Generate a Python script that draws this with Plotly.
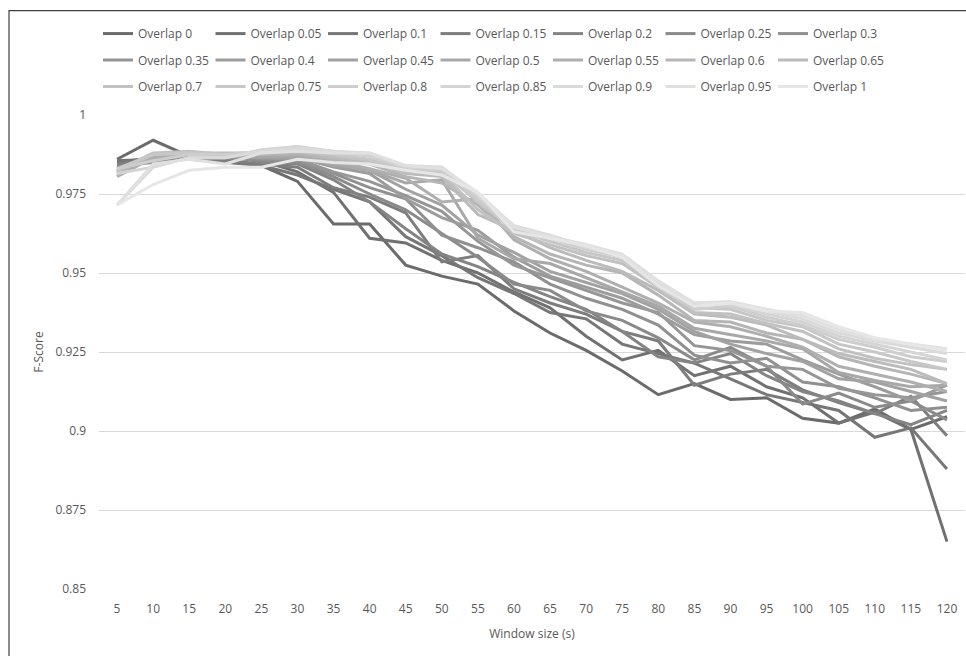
import plotly.graph_objects as go

window_sizes = ["5", "10", "15", "20", "25", "30", "35", "40", "45", "50", "55", "60",
                "65", "70", "75", "80", "85", "90", "95", "100", "105", "110", "115", "120"]

overlaps = ["0", "0.05", "0.1", "0.15", "0.2", "0.25", "0.3", "0.35", "0.4", "0.45", "0.5",
            "0.55", "0.6", "0.65", "0.7", "0.75", "0.8", "0.85", "0.9", "0.95", "1"]

ov_000 = [.986, .992, .987, .986, .984, .979, .9655, .9655, .9525, .949, .9465, .938, .931, .9255, .919, .9115, .915, .910, .9105, .904, .9025, .907, .9005, .9045]
ov_005 = [.9855, .986, .9865, .9875, .9855, .982, .9755, .961, .9595, .954, .950, .944, .939, .930, .9225, .9255, .9175, .9205, .914, .9105, .9025, .906, .9005, .865]
ov_010 = [.985, .9865, .986, .985, .984, .981, .9765, .9725, .9615, .9555, .9485, .9435, .9375, .9355, .9275, .9245, .9215, .9165, .9115, .909, .9065, .898, .901, .888]
ov_015 = [.9845, .9855, .986, .9855, .9845, .9835, .977, .974, .969, .9535, .9555, .945, .9405, .937, .9315, .9285, .9145, .918, .9195, .913, .909, .9055, .911, .8985]
ov_020 = [.984, .985, .9865, .9875, .985, .9845, .9795, .9725, .964, .956, .952, .947, .9425, .9385, .9315, .9235, .9215, .9245, .9175, .9125, .9095, .9055, .902, .9065]
ov_025 = [.9835, .9855, .987, .9865, .9855, .985, .9805, .975, .970, .9625, .955, .9465, .9445, .938, .935, .9295, .9225, .9265, .9205, .9085, .912, .9075, .9095, .9035]
ov_030 = [.983, .986, .9875, .987, .986, .9855, .9815, .977, .9735, .962, .958, .9535, .9465, .942, .9385, .9335, .924, .9215, .923, .9155, .914, .9105, .9065, .9075]
ov_035 = [.9825, .9865, .987, .9865, .9865, .986, .982, .979, .9745, .9695, .960, .9525, .9485, .9445, .9405, .9375, .927, .9255, .9205, .9195, .9135, .9115, .9105, .9125]
ov_040 = [.982, .986, .987, .9875, .9865, .9865, .9835, .9815, .9735, .9675, .9635, .955, .949, .9455, .942, .937, .9305, .9285, .9275, .9225, .918, .914, .9095, .9145]
ov_045 = [.9815, .9865, .9875, .987, .9865, .9865, .984, .9825, .9765, .9715, .962, .9565, .9505, .947, .9435, .9385, .9315, .9275, .9245, .922, .9165, .9155, .9125, .9095]
ov_050 = [.981, .987, .9875, .9875, .987, .987, .9845, .9825, .9785, .9795, .961, .9545, .953, .9485, .944, .9395, .9325, .9305, .9285, .926, .9185, .916, .914, .9145]
ov_055 = [.9805, .9865, .988, .9875, .9875, .9875, .9855, .983, .980, .9725, .9735, .9605, .9545, .9505, .9455, .9405, .9345, .933, .930, .9265, .9205, .918, .9155, .9125]
ov_060 = [.9815, .9875, .988, .9875, .9875, .988, .986, .9845, .9805, .9785, .9715, .9615, .956, .9525, .950, .943, .935, .9345, .931, .929, .9235, .9205, .918, .915]
ov_065 = [.982, .9875, .988, .988, .988, .9885, .9865, .985, .9815, .9805, .9685, .9635, .958, .954, .9505, .9445, .937, .936, .9335, .929, .9245, .922, .9195, .915]
ov_070 = [.9825, .988, .9885, .9875, .988, .989, .987, .9855, .982, .9815, .970, .9625, .959, .9555, .953, .9455, .9375, .937, .934, .9315, .926, .923, .921, .9195]
ov_075 = [.983, .9875, .988, .9875, .988, .9895, .9875, .986, .9825, .982, .9725, .9635, .960, .9565, .954, .9465, .939, .9385, .935, .933, .9275, .925, .922, .9195]
ov_080 = [.983, .9855, .9875, .9875, .9885, .990, .988, .987, .983, .9825, .9735, .964, .961, .9575, .955, .9455, .9385, .9395, .936, .9335, .929, .9265, .9235, .922]
ov_085 = [.9815, .9835, .9865, .9865, .989, .990, .9885, .9875, .9835, .9835, .9745, .9645, .9615, .958, .9555, .9465, .940, .940, .937, .9345, .930, .9275, .925, .9225]
ov_090 = [.9715, .9835, .9865, .9865, .9885, .9895, .9885, .988, .984, .9835, .975, .965, .962, .9585, .9555, .947, .9405, .9405, .938, .9355, .931, .9285, .9265, .9245]
ov_095 = [.9715, .9845, .986, .9845, .988, .9885, .988, .988, .984, .983, .9755, .9645, .9615, .959, .956, .9475, .9405, .941, .9385, .9365, .932, .929, .9275, .926]
ov_100 = [.9715, .978, .9825, .9835, .9835, .986, .985, .9845, .9825, .981, .9755, .963, .961, .9585, .955, .946, .9395, .9405, .938, .9375, .933, .9295, .9275, .9255]

series = [ov_000, ov_005, ov_010, ov_015, ov_020, ov_025, ov_030, ov_035, ov_040, ov_045, ov_050,
          ov_055, ov_060, ov_065, ov_070, ov_075, ov_080, ov_085, ov_090, ov_095, ov_100]

y_tick_vals = [0.85, 0.875, 0.9, 0.925, 0.95, 0.975, 1.0]
y_tick_text = ["0.85", "0.875", "0.9", "0.925", "0.95", "0.975", "1"]

FONT = "Open Sans"
TXT = "#595959"

dark, light = 107, 230
fig = go.Figure()
n = len(series)
for i, (name, vals) in enumerate(zip(overlaps, series)):
    g = round(dark + (light - dark) * i / (n - 1))
    col = f"rgb({g},{g},{g})"
    row = i // 7
    fig.add_trace(go.Scatter(
        x=window_sizes, y=vals, mode="lines", name=f"Overlap {name}",
        line=dict(color=col, width=3),
        legend="legend" if row == 0 else f"legend{row + 1}",
    ))

W, H = 966, 656
L, R, T, B = 99, 1, 114.5, 67
pw, ph = W - L - R, H - T - B


def px_to_paper_y(py):
    return (H - B - py) / ph


def px_to_paper_x(px):
    return (px - L) / pw


leg_common = dict(orientation="h", xanchor="left", yanchor="middle",
                  font=dict(family=FONT, size=12, color=TXT),
                  entrywidth=67.5, entrywidthmode="pixels", itemwidth=30,
                  bgcolor="rgba(0,0,0,0)", borderwidth=0, tracegroupgap=0)

row_px = [33, 59.5, 86]
fig.update_layout(
    width=W, height=H,
    margin=dict(l=L, r=R, t=T, b=B),
    paper_bgcolor="white", plot_bgcolor="white",
    font=dict(family=FONT, size=12, color=TXT),
    legend=dict(x=px_to_paper_x(98), y=px_to_paper_y(row_px[0]), **leg_common),
    legend2=dict(x=px_to_paper_x(98), y=px_to_paper_y(row_px[1]), **leg_common),
    legend3=dict(x=px_to_paper_x(98), y=px_to_paper_y(row_px[2]), **leg_common),
    xaxis=dict(type="category", range=[-0.5, len(window_sizes) - 0.5],
               showgrid=False, showline=False, ticks="",
               tickfont=dict(family=FONT, size=12, color=TXT),
               ticklabelstandoff=11,
               title=dict(text="Window size (s)", font=dict(family=FONT, size=12, color=TXT), standoff=13)),
    yaxis=dict(range=[0.85, 1.0], tickvals=y_tick_vals, ticktext=y_tick_text,
               showgrid=True, gridcolor="#d9d9d9", gridwidth=1, zeroline=False,
               showline=False, ticks="", ticklabelstandoff=12,
               tickfont=dict(family=FONT, size=12, color=TXT),
               title=dict(text="F-Score", font=dict(family=FONT, size=12, color=TXT), standoff=9)),
    showlegend=True,
)

# outer chart frame
fx = px_to_paper_x(9)
fy = px_to_paper_y(10)
fig.add_shape(type="path", xref="paper", yref="paper",
              path=f"M {fx} {px_to_paper_y(700)} L {fx} {fy} L {px_to_paper_x(1000)} {fy}",
              line=dict(color="#404040", width=1.2))

fig.write_html("out.html", config={"displayModeBar": False},
               post_script="document.body.style.margin='0px';")
